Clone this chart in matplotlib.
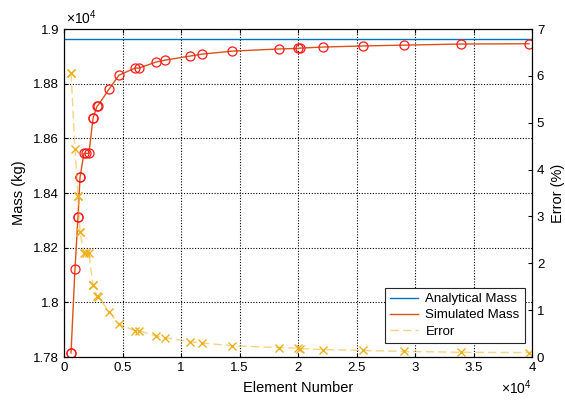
import numpy as np
import matplotlib
matplotlib.use('Agg')
import matplotlib.pyplot as plt
from matplotlib.ticker import FuncFormatter, MultipleLocator

plt.rcParams['font.family'] = ['Liberation Sans', 'DejaVu Sans']
plt.rcParams['mathtext.fontset'] = 'custom'
plt.rcParams['mathtext.rm'] = 'Liberation Sans'

# data
elements = [600, 600, 940, 1200, 1200, 1370, 1370, 1700, 1900, 2130,
            2480, 2480, 2820, 2900, 3850, 4700, 6070, 6400, 7860, 8630,
            10770, 11790, 14360, 18380, 20000, 20170, 22140, 25560, 29060,
            33930, 39740]
analytical_mass = 18964.0
simulated_mass = [17815, 17815, 18123, 18314, 18314, 18457, 18457, 18545, 18545, 18545,
                  18673, 18673, 18717, 18720, 18780, 18831, 18857, 18857, 18879, 18886,
                  18901, 18908, 18919, 18927, 18929, 18930, 18934, 18938, 18941,
                  18945, 18946]
error_pct = [6.06, 6.06, 4.43, 3.43, 3.43, 2.67, 2.67, 2.21, 2.21, 2.21,
             1.53, 1.53, 1.30, 1.29, 0.97, 0.70, 0.56, 0.56, 0.45, 0.41,
             0.33, 0.30, 0.24, 0.20, 0.19, 0.18, 0.16, 0.14, 0.12,
             0.10, 0.095]

blue = '#0072BD'
orange = '#D95319'
yellow = '#EDB120'

fig = plt.figure(figsize=(5.65, 4.03), dpi=100)
ax = fig.add_axes([64/565, 1-357/403, 468/565, 328/403])
ax2 = ax.twinx()

h1, = ax.plot([0, 40000], [analytical_mass, analytical_mass], color=blue, lw=1,
              label='Analytical Mass')
h2, = ax.plot(elements, simulated_mass, color=orange, lw=1, label='Simulated Mass')
ax.plot(elements, simulated_mass, 'o', ms=6.5, mfc='none', mec='#FF1A1A', mew=0.9)

h3, = ax2.plot(elements, error_pct, color=yellow, alpha=0.55, lw=1, dashes=(6, 3),
               label='Error')
ax2.plot(elements, error_pct, 'x', ms=6, color=yellow, mew=1)

ax.set_xlim(0, 40000)
ax.set_ylim(17800, 19000)
ax2.set_ylim(0, 7)

ax.xaxis.set_major_locator(MultipleLocator(5000))
ax.yaxis.set_major_locator(MultipleLocator(200))
ax2.yaxis.set_major_locator(MultipleLocator(1))
ax.xaxis.set_major_formatter(FuncFormatter(lambda v, p: '{:g}'.format(v/1e4)))
ax.yaxis.set_major_formatter(FuncFormatter(lambda v, p: '{:g}'.format(round(v/1e4, 3))))

ax.grid(True, color='k', linestyle=(0, (1, 1.5)), lw=0.8)
ax.tick_params(direction='in', labelsize=9.5, top=True, length=3, width=0.8)
ax2.tick_params(direction='in', labelsize=9.5, length=3, width=0.8)
for a in (ax, ax2):
    for s in a.spines.values():
        s.set_linewidth(0.8)

ax.set_xlabel('Element Number', fontsize=10.5, labelpad=5)
ax.set_ylabel('Mass (kg)', fontsize=10.5, labelpad=5)
ax2.set_ylabel('Error (%)', fontsize=10.5, labelpad=5)

ax.text(0.005, 1.005, r'$\times10^4$', transform=ax.transAxes, ha='left', va='bottom',
        fontsize=10)
ax.text(1.0, -0.113, r'$\times10^4$', transform=ax.transAxes, ha='right', va='baseline',
        fontsize=10)

leg = ax2.legend(handles=[h1, h2, h3], loc='lower right', fontsize=9.5,
                 fancybox=False, edgecolor='#262626', framealpha=1,
                 bbox_to_anchor=(0.985, 0.043), borderaxespad=0,
                 handlelength=2.1, labelspacing=0.3,
                 borderpad=0.4, handletextpad=0.6)
leg.get_frame().set_linewidth(0.8)

plt.savefig('out.png', dpi=100)
